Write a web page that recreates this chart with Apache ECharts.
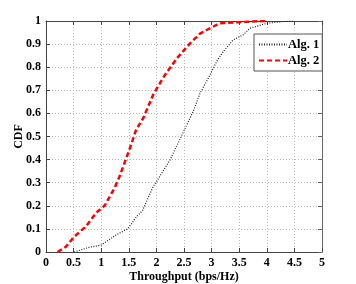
<!DOCTYPE html>
<html><head><meta charset="utf-8">
<script src="https://cdn.jsdelivr.net/npm/echarts@6/dist/echarts.min.js"></script>
<style>html,body{margin:0;padding:0;background:#fff}#c{width:356px;height:284px}</style>
</head><body><div id="c"></div>
<script>
const alg1X = [0.51,0.78,1.0,1.27,1.48,1.64,1.75,1.94,1.99,2.25,2.45,2.67,2.79,2.97,3.09,3.21,3.39,3.57,3.7,4.0,4.3,4.5];
const alg1Y = [0,0.02,0.03,0.074,0.10,0.153,0.18,0.283,0.30,0.40,0.50,0.61,0.687,0.766,0.824,0.867,0.918,0.94,0.969,0.99,0.998,1];
const alg2X = [0.21,0.36,0.51,0.72,0.91,1.06,1.24,1.33,1.42,1.54,1.63,1.76,1.94,2.13,2.37,2.61,2.79,2.91,3.09,3.15,3.51,3.97];
const alg2Y = [0,0.023,0.066,0.11,0.17,0.20,0.276,0.326,0.384,0.463,0.528,0.579,0.68,0.758,0.838,0.903,0.945,0.961,0.983,0.99,0.995,1];
const seriesNames = ['Alg. 1','Alg. 2'];
const xTitle = 'Throughput (bps/Hz)';
const yTitle = 'CDF';

const font = 'Liberation Serif';
const zip = (a,b) => a.map((v,i)=>[v,b[i]]);
const lbl = {fontFamily: font, fontWeight: 'bold', fontSize: 12, color: '#000'};
const chart = echarts.init(document.getElementById('c'));
chart.setOption({
  animation: false,
  grid: {left: 46, right: 34, top: 21, bottom: 32, show: false, containLabel: false, outerBoundsMode: 'none'},
  legend: {
    data: seriesNames, orient: 'vertical', left: 254, top: 34,
    itemWidth: 28, itemHeight: 10, itemGap: 3,
    padding: [4, 3, 4, 4],
    backgroundColor: '#fff', borderColor: '#555', borderWidth: 1,
    itemStyle: {opacity: 0},
    textStyle: {fontFamily: font, fontWeight: 'bold', fontSize: 12.5, color: '#000', padding: [0,0,0,-4]}
  },
  xAxis: [
    {type: 'value', min: 0, max: 5, interval: 0.5, position: 'bottom',
     axisLine: {onZero: false, lineStyle: {color: '#444', width: 1}},
     axisTick: {inside: true, length: 4, lineStyle: {color: '#444'}},
     axisLabel: Object.assign({margin: 5}, lbl),
     splitLine: {show: true, lineStyle: {color: '#bbb', type: [1,2], width: 1}},
     name: xTitle, nameLocation: 'middle', nameGap: 19, nameMoveOverlap: false,
     nameTextStyle: {fontFamily: font, fontWeight: 'bold', fontSize: 12, color: '#000'}},
    {type: 'value', min: 0, max: 5, interval: 0.5, position: 'top',
     axisLine: {onZero: false, lineStyle: {color: '#444', width: 1}},
     axisTick: {inside: true, length: 4, lineStyle: {color: '#444'}},
     axisLabel: {show: false}, splitLine: {show: false}}
  ],
  yAxis: [
    {type: 'value', min: 0, max: 1, interval: 0.1, position: 'left',
     axisLine: {show: true, onZero: false, lineStyle: {color: '#444', width: 1}},
     axisTick: {show: true, inside: true, length: 4, lineStyle: {color: '#444'}},
     axisLabel: Object.assign({margin: 5}, lbl),
     splitLine: {show: true, lineStyle: {color: '#bbb', type: [1,2], width: 1}},
     name: yTitle, nameLocation: 'middle', nameGap: 21, nameRotate: 90, nameMoveOverlap: false,
     nameTextStyle: {fontFamily: font, fontWeight: 'bold', fontSize: 12, color: '#000'}},
    {type: 'value', min: 0, max: 1, interval: 0.1, position: 'right',
     axisLine: {show: true, onZero: false, lineStyle: {color: '#666', width: 1}},
     axisTick: {show: true, inside: true, length: 4, lineStyle: {color: '#666'}},
     axisLabel: {show: false}, splitLine: {show: false}}
  ],
  series: [
    {name: seriesNames[0], type: 'line', data: zip(alg1X, alg1Y), showSymbol: false, symbol: 'none',
     lineStyle: {color: '#222', width: 1.2, type: [1,1.5]}, itemStyle: {color: '#222'}},
    {name: seriesNames[1], type: 'line', data: zip(alg2X, alg2Y), showSymbol: false, symbol: 'none',
     lineStyle: {color: '#ff0000', width: 2.5, type: [5,3]}, itemStyle: {color: '#ff0000'}}
  ]
});
</script></body></html>
